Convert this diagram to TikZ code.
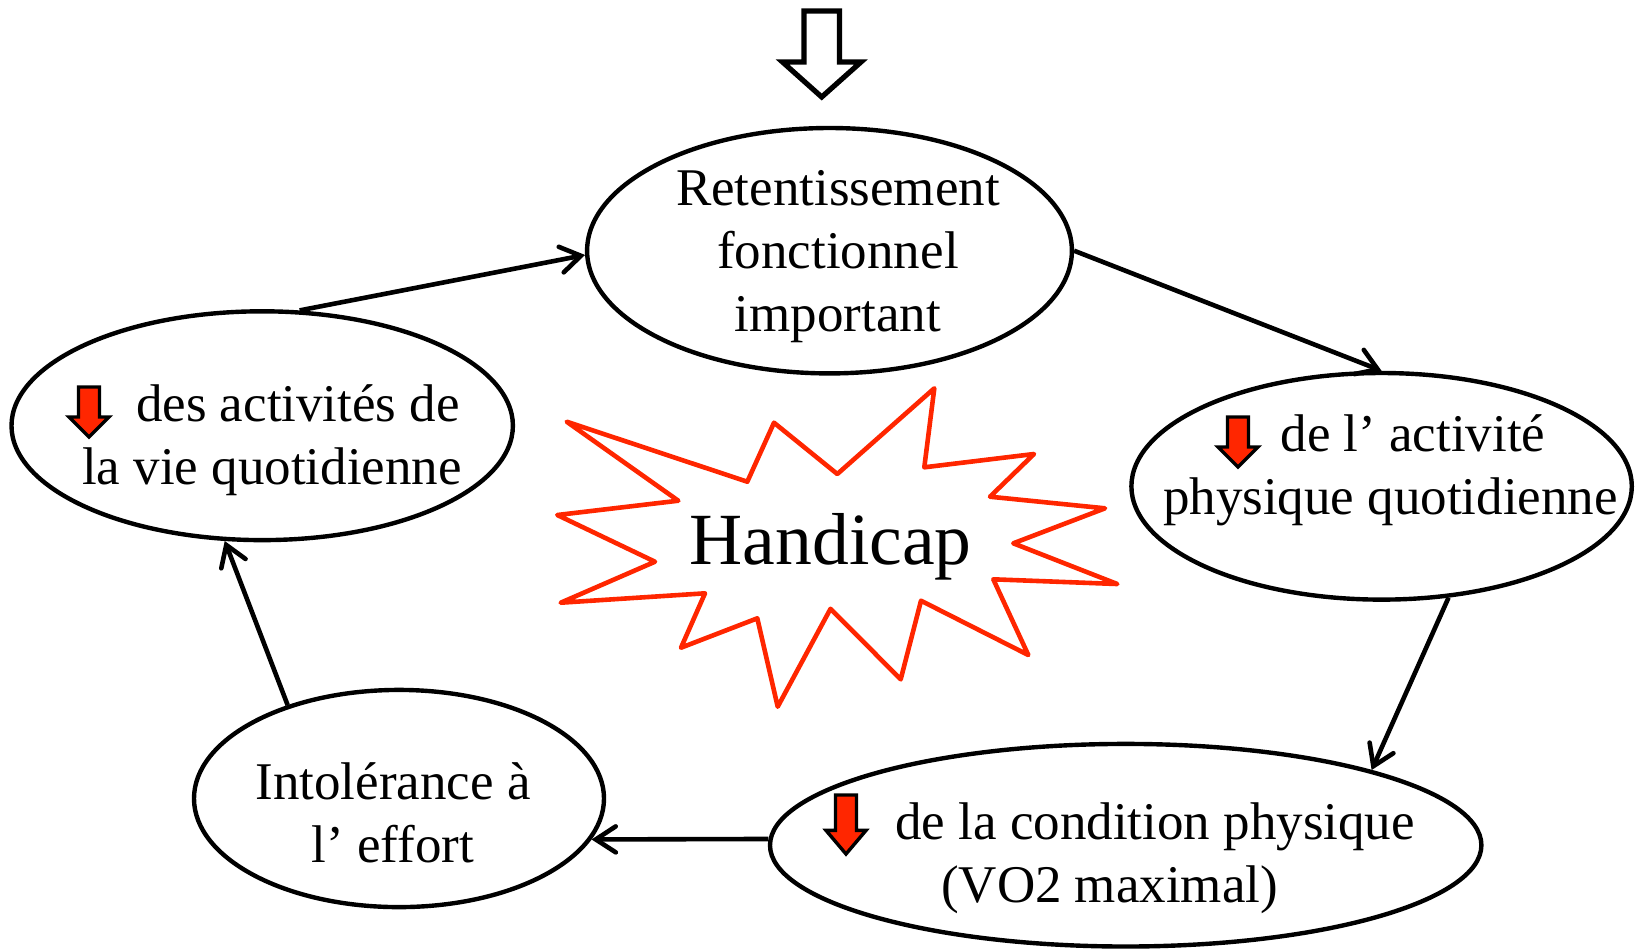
\documentclass[tikz,border=0pt]{standalone}
\usepackage{fontspec}
\setmainfont{Liberation Serif}
\usetikzlibrary{shapes.geometric,arrows.meta}
\definecolor{burstred}{RGB}{255,38,0}

\begin{document}
\begin{tikzpicture}[x=0.5pt,y=-0.5pt,
    cyc/.style={draw,ellipse,line width=2.2pt,inner sep=0pt},
    lbl/.style={align=center,inner sep=0pt,font=\fontsize{26.5pt}{31.5pt}\selectfont},
    flow/.style={line width=2.3pt,-{Straight Barb[length=10pt,width=13pt,line cap=round]}},
    dnarrow/.pic={\draw[line width=1.7pt,fill=burstred,line join=miter] (-10.5,-25) -- (10.5,-25) -- (10.5,5) -- (20,5) -- (0,25) -- (-20,5) -- (-10.5,5) -- cycle;}]
    \useasboundingbox (0,0) rectangle (1638,950);
    % hollow arrow on top
    \draw [line width=2.6pt,line join=miter] (804,11) -- (839.5,11) -- (839.5,62) -- (861,62) -- (821.7,97) -- (782.5,62) -- (804,62) -- cycle;
    % the cycle
    \node [cyc,minimum width=242.4pt,minimum height=122.7pt] (retent) at (829.5,250.7) {};
    \node [lbl] (retentT) at (838,257) {Retentissement\\fonctionnel\\important};
    \node [cyc,minimum width=250.2pt,minimum height=113.3pt] (activ) at (1381.6,486.3) {};
    \node [lbl] (activT) at (1390.5,470) {\hspace*{22.5pt}de l’ activité\\physique quotidienne};
    \node [cyc,minimum width=355.7pt,minimum height=101.3pt] (condi) at (1125.7,845.2) {};
    \node [lbl] (condiT) at (1109.6,858) {\hspace*{45.5pt}de la condition physique\\(VO2 maximal)};
    \node [cyc,minimum width=205pt,minimum height=108.6pt] (intol) at (399,798.5) {};
    \node [lbl] (intolT) at (393,813) {Intolérance à\\l’ effort};
    \node [cyc,minimum width=250.7pt,minimum height=114.4pt] (vieq) at (262.2,425.7) {};
    \node [lbl] (vieqT) at (272,440) {\hspace*{26pt}des activités de\\la vie quotidienne};
    % small red arrows
    \pic at (89,412) {dnarrow};
    \pic at (1238,442) {dnarrow};
    \pic [yscale=1.18] at (846,824.5) {dnarrow};
    % connectors
    \draw [flow] (vieq.72) -- (retent.181);
    \draw [flow] (retent.east) -- (activ.north);
    \draw [flow] (activ.-59) -- (condi.17);
    \draw [flow] (condi.179.3) -- (intol.-12.5);
    \draw [flow] (intol.140.6) -- (vieq.252);
    % starburst
    \draw [burstred,line width=2.3pt,line join=round] (566.7,421.7) -- (678.3,500.7) -- (557.3,515) -- (655,561.7) -- (560.7,602.7) -- (705,593.3) -- (681,647.7) -- (757.3,618.3) -- (777.7,706.7) -- (830.5,608.8) -- (900.7,679.3) -- (921,600.7) -- (1028.3,655) -- (993.3,579.3) -- (1117.3,584) -- (1013.3,543.3) -- (1105,508.3) -- (990,496.7) -- (1034,454) -- (924.3,467.3) -- (934.3,388.3) -- (837.3,474) -- (774,422.7) -- (747.3,481.7) -- cycle;
    \node [inner sep=0pt,font=\fontsize{36.8pt}{44pt}\selectfont] (handi) at (830.6,547) {Handicap};
\end{tikzpicture}
\end{document}
